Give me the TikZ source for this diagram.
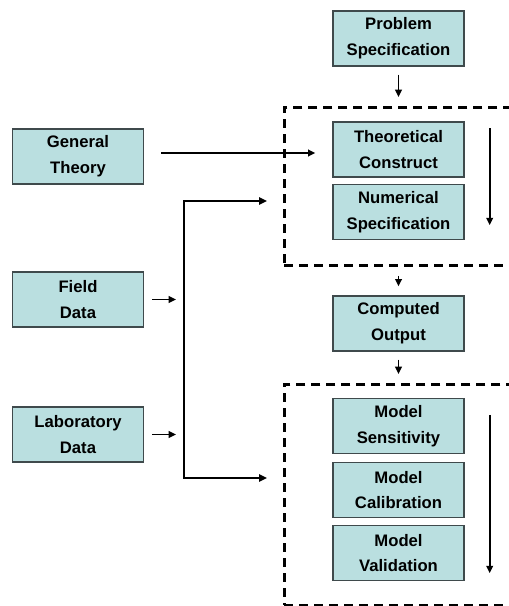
\documentclass[tikz,border=0pt]{standalone}
\usepackage{fontspec}
\setmainfont{Liberation Sans}
\usetikzlibrary{arrows.meta,calc}
\definecolor{boxfill}{HTML}{BADFE0}
\definecolor{boxline}{HTML}{3F4A4C}

\begin{document}
\begin{tikzpicture}[
 x=.75pt,y=-.75pt,
 box/.style={draw=boxline,fill=boxfill,line width=1pt,minimum width=98.25pt,minimum height=41.25pt,inner sep=0pt,align=center,font=\fontsize{12.5}{19.3}\selectfont\bfseries},
 stage/.style={draw=black,line width=2.1pt,dash pattern=on 6.75pt off 4.5pt,inner sep=0pt},
 flow/.style={-{Triangle[length=5.5pt,width=5pt]},draw=black,line width=1.4pt},
 trunk/.style={{Triangle[length=6pt,width=5.5pt]}-{Triangle[length=6pt,width=5.5pt]},draw=black,line width=2.2pt}
]
\useasboundingbox (0,0) rectangle (508,606);

% dashed stage frames (right side runs off the page)
\node[stage,minimum width=172.5pt,minimum height=118.5pt,anchor=north west] (frameA) at (283,106) {};
\node[stage,minimum width=172.5pt,minimum height=165.75pt,anchor=north west] (frameB) at (283,383) {};

% main column
\node[box] (prob) at (398.5,38.5) {Problem\\Specification};
\node[box] (theo) at (398.5,149.5) {Theoretical\\Construct};
\node[box] (num) at (398.5,212) {Numerical\\Specification};
\node[box] (comp) at (398.5,323.5) {Computed\\Output};
\node[box] (sens) at (398.5,426) {Model\\Sensitivity};
\node[box] (cal) at (398.5,490) {Model\\Calibration};
\node[box] (val) at (398.5,553) {Model\\Validation};

% inputs on the left
\node[box] (gen) at (78,156.5) {General\\Theory};
\node[box] (field) at (78,299.5) {Field\\Data};
\node[box] (lab) at (78,434.5) {Laboratory\\Data};

% steps between the frames
\draw[flow,shorten <=6pt,shorten >=6.75pt] (prob.south) -- (prob.south |- frameA.north);
\draw[flow,shorten <=6.75pt,shorten >=6.75pt] (prob.south |- frameA.south) -- (comp.north);
\draw[flow,shorten <=6pt,shorten >=6.75pt] (comp.south) -- (comp.south |- frameB.north);

% order inside each frame
\draw[flow] ($(theo.north east)+(25,7)$) -- ($(num.south east)+(25,-15)$);
\draw[flow] ($(sens.north east)+(25,17)$) -- ($(val.south east)+(25,-8)$);

% theory feeds the construct
\coordinate (genout) at ($(gen.east)+(17,-3.5)$);
\draw[flow,line width=2pt,shorten >=12.75pt] (genout) -- (genout -| theo.west);

% data trunk into both frames
\coordinate (trunkA) at (184,201);
\coordinate (trunkB) at (184,478);
\draw[trunk] (trunkA -| frameA.west) ++(-16,0) coordinate (inA) -- (trunkA) -- (trunkB) -- (trunkB -| inA);
\draw[flow,shorten <=6pt,shorten >=6pt] (field.east) -- (field.east -| trunkA);
\draw[flow,shorten <=6pt,shorten >=6pt] (lab.east) -- (lab.east -| trunkA);
\end{tikzpicture}
\end{document}
